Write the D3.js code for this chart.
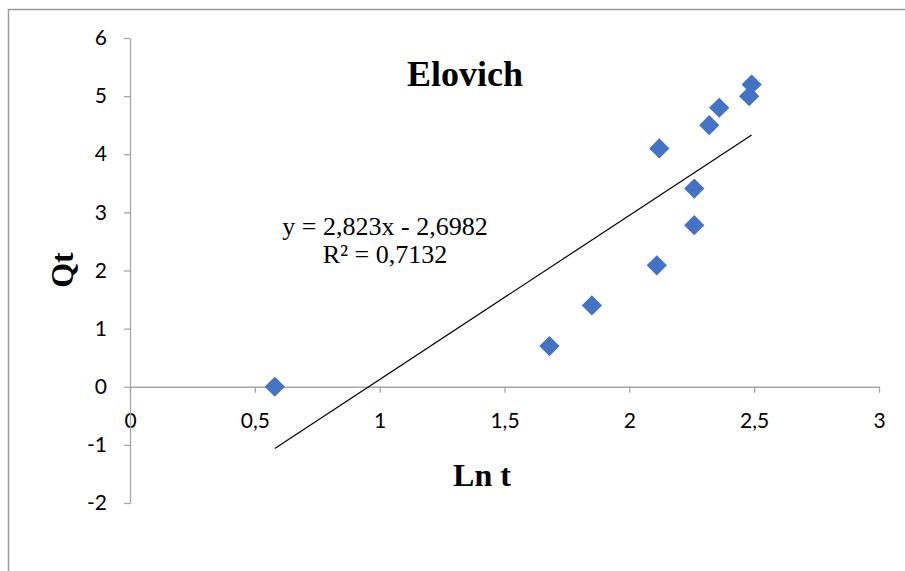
<!DOCTYPE html>
<html>
<head>
<meta charset="utf-8">
<script src="https://cdn.jsdelivr.net/npm/d3@7"></script>
<style>
  body { margin: 0; background: #fff; }
</style>
</head>
<body>
<div id="chart-area"></div>
<script>

// dados
var lnT = [0.58, 1.68, 1.85, 2.11, 2.12, 2.26, 2.26, 2.32, 2.36, 2.48, 2.49];
var qt  = [0.00, 0.70, 1.40, 2.09, 4.10, 2.78, 3.41, 4.50, 4.80, 5.00, 5.20];
var xTicks = [0, 0.5, 1, 1.5, 2, 2.5, 3];
var yTicks = [-2, -1, 0, 1, 2, 3, 4, 5, 6];
var slope = 2.823, intercept = -2.6982;
var eqLabel = "y = 2,823x - 2,6982";
var r2Label = "R² = 0,7132";

var fmt = function(d) { return (d + "").replace(".", ","); };
var serif = "'Liberation Serif', 'Times New Roman', serif";
var sans = "Lato, 'Open Sans', sans-serif";

var svg = d3.select("#chart-area")
	.append("svg")
	.attr("width", 905)
	.attr("height", 571);

// moldura
svg.append("rect")
	.attr("x", 8.5)
	.attr("y", 9.5)
	.attr("width", 1000)
	.attr("height", 1000)
	.attr("fill", "none")
	.attr("stroke", "#9a9a9a")
	.attr("stroke-width", 1.5);

var x = d3.scaleLinear()
	.domain([0, 3])
	.range([130, 879]);

var y = d3.scaleLinear()
	.domain([-2, 6])
	.range([503, 38]);

// eixo X (em y = 0)
var gx = svg.append("g")
	.attr("transform", "translate(0," + y(0) + ")")
	.call(d3.axisBottom(x).tickValues(xTicks).tickFormat(fmt).tickSize(6).tickPadding(20).tickSizeOuter(0));
gx.select(".domain").attr("stroke", "#a6a6a6").attr("stroke-width", 1.3);
gx.selectAll(".tick line").attr("stroke", "#a6a6a6").attr("stroke-width", 1.3);
gx.selectAll(".tick text")
	.attr("font-family", sans)
	.attr("font-size", 21)
	.attr("fill", "#000");

// eixo Y
var gy = svg.append("g")
	.attr("transform", "translate(" + x(0) + ",0)")
	.call(d3.axisLeft(y).tickValues(yTicks).tickFormat(fmt).tickSize(6).tickPadding(17).tickSizeOuter(0));
gy.select(".domain").attr("stroke", "#a6a6a6").attr("stroke-width", 1.3);
gy.selectAll(".tick line").attr("stroke", "#a6a6a6").attr("stroke-width", 1.3);
gy.selectAll(".tick text")
	.attr("font-family", sans)
	.attr("font-size", 21)
	.attr("fill", "#000");

// linha de tendencia
var xMin = d3.min(lnT), xMax = d3.max(lnT);
var line = d3.line()
	.x(function(d) { return x(d); })
	.y(function(d) { return y(slope * d + intercept); });

svg.append("path")
	.datum([xMin, xMax])
	.attr("d", line)
	.attr("fill", "none")
	.attr("stroke", "#000")
	.attr("stroke-width", 1.2);

// pontos
var diamond = d3.symbol().type(d3.symbolSquare).size(205);
svg.selectAll(".pt")
	.data(lnT)
	.enter()
	.append("path")
	.attr("class", "pt")
	.attr("d", diamond)
	.attr("transform", function(d, i) {
		return "translate(" + x(d) + "," + y(qt[i]) + ") rotate(45)";
	})
	.attr("fill", "#4472c4");

// textos
svg.append("text")
	.attr("x", 465)
	.attr("y", 86)
	.attr("text-anchor", "middle")
	.style("font-family", serif)
	.style("font-weight", "bold")
	.style("font-size", "36px")
	.text("Elovich");

svg.append("text")
	.attr("x", 385)
	.attr("y", 235)
	.attr("text-anchor", "middle")
	.style("font-family", serif)
	.style("font-size", "26px")
	.text(eqLabel);

svg.append("text")
	.attr("x", 385)
	.attr("y", 263)
	.attr("text-anchor", "middle")
	.style("font-family", serif)
	.style("font-size", "26px")
	.text(r2Label);

svg.append("text")
	.attr("x", 482)
	.attr("y", 486)
	.attr("text-anchor", "middle")
	.style("font-family", serif)
	.style("font-weight", "bold")
	.style("font-size", "32px")
	.text("Ln t");

svg.append("text")
	.attr("transform", "translate(73,270) rotate(-90)")
	.attr("text-anchor", "middle")
	.style("font-family", serif)
	.style("font-weight", "bold")
	.style("font-size", "32px")
	.text("Qt");

</script>
</body>
</html>
